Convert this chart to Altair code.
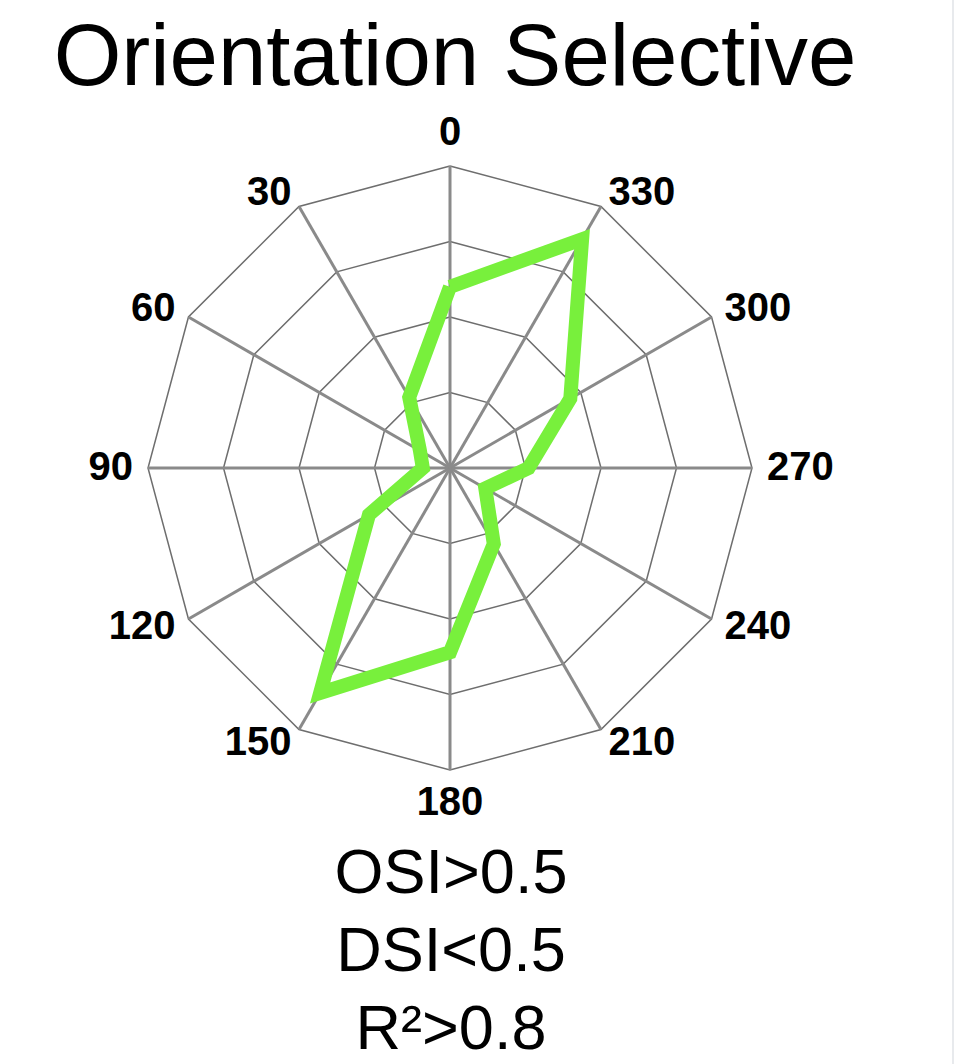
import altair as alt
import pandas as pd

# ---- data ----
angles = [0, 30, 60, 90, 120, 150, 180, 210, 240, 270, 300, 330]
response = [0.60, 0.27, 0.115, 0.09, 0.31, 0.86, 0.61, 0.29, 0.135, 0.26, 0.46, 0.875]
ring_levels = [0.25, 0.5, 0.75, 1.0]
angle_labels = [str(a) for a in angles]
title_text = "Orientation Selective"
footer_lines = ["OSI>0.5", "DSI<0.5", "R²>0.8"]

# ---- layout ----
W, H = 954, 1064
CX, CY, R = 450, 468, 302
GREEN = "#78F03C"
FONT = "Liberation Sans"

xscale = alt.Scale(domain=[-CX / R, (W - CX) / R], nice=False, zero=False)
yscale = alt.Scale(domain=[-(H - CY) / R, CY / R], nice=False, zero=False)

resp_df = pd.DataFrame({
    "angle": angles + [angles[0]],
    "value": response + [response[0]],
    "order": list(range(len(angles) + 1)),
})

ring_rows = []
for lv in ring_levels:
    for i, a in enumerate(angles + [angles[0]]):
        ring_rows.append({"level": lv, "angle": a, "order": i})
ring_df = pd.DataFrame(ring_rows)

spoke_df = pd.DataFrame({"angle": angles})
label_df = pd.DataFrame({"angle": angles, "label": angle_labels})

X = alt.X("x:Q", scale=xscale, axis=None)
Y = alt.Y("y:Q", scale=yscale, axis=None)

rings = alt.Chart(ring_df).transform_calculate(
    x="-datum.level*sin(datum.angle*PI/180)",
    y="datum.level*cos(datum.angle*PI/180)",
).mark_line(color="#6e6e6e", strokeWidth=1.5).encode(
    x=X, y=Y, detail="level:N", order="order:Q"
)

spokes = alt.Chart(spoke_df).transform_calculate(
    x="0", y="0",
    x2="-sin(datum.angle*PI/180)",
    y2="cos(datum.angle*PI/180)",
).mark_rule(color="#8a8a8a", strokeWidth=3).encode(
    x=X, y=Y, x2="x2:Q", y2="y2:Q"
)

curve = alt.Chart(resp_df).transform_calculate(
    x="-datum.value*sin(datum.angle*PI/180)",
    y="datum.value*cos(datum.angle*PI/180)",
).mark_line(color=GREEN, strokeWidth=14, strokeJoin="miter", strokeMiterLimit=10).encode(
    x=X, y=Y, order="order:Q"
)

def label_layer(filt, align, rr):
    return alt.Chart(label_df).transform_filter(filt).transform_calculate(
        x=f"-{rr}*sin(datum.angle*PI/180)",
        y=f"{rr}*cos(datum.angle*PI/180)",
    ).mark_text(align=align, baseline="middle", font=FONT, fontSize=40,
                fontWeight="bold", color="black").encode(x=X, y=Y, text="label:N")

labels_left = label_layer("datum.angle > 0 && datum.angle < 180", "right", 1.05)
labels_right = label_layer("datum.angle > 180", "left", 1.05)
labels_mid = label_layer("datum.angle == 0 || datum.angle == 180", "center", 1.11)

title = alt.Chart(pd.DataFrame({"t": [title_text]})).mark_text(
    font=FONT, fontSize=87, align="center", baseline="alphabetic", color="black"
).encode(x=alt.value(455), y=alt.value(85), text="t:N")

footer_layers = []
for i, line in enumerate(footer_lines):
    footer_layers.append(
        alt.Chart(pd.DataFrame({"t": [line]})).mark_text(
            font=FONT, fontSize=63, align="center", baseline="alphabetic", color="black"
        ).encode(x=alt.value(451), y=alt.value(893 + 78 * i), text="t:N")
    )

edge = alt.Chart(pd.DataFrame({"k": [0]})).mark_rule(color="#e8eaed", strokeWidth=2).encode(
    x=alt.value(953), y=alt.value(0), y2=alt.value(H)
)

chart = alt.layer(
    rings, spokes, curve, labels_left, labels_right, labels_mid, title, *footer_layers, edge
).properties(
    width=W, height=H, padding=0, autosize=alt.AutoSizeParams(type="none"),
    background="white"
).configure_view(stroke=None)

chart.save("out.html", embed_options={"renderer": "svg", "actions": False})
